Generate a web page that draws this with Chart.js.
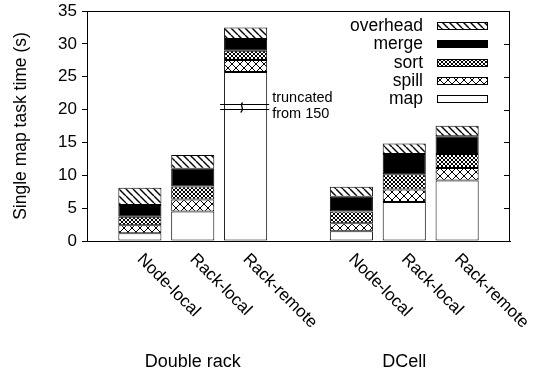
<!DOCTYPE html>
<html>
<head>
<meta charset="utf-8">
<script src="https://cdn.jsdelivr.net/npm/chart.js@4"></script>
<style>
  html, body { margin: 0; padding: 0; background: #fff; }
  #wrap { width: 550px; height: 374px; }
</style>
</head>
<body>
<div id="wrap"><canvas id="chart"></canvas></div>
<script>
// categories (empty slots pad the two groups)
const categories = ["", "Node-local", "Rack-local", "Rack-remote", "", "Node-local", "Rack-local", "Rack-remote", ""];
const groups = ["Double rack", "DCell"];
const groupSlots = [2, 6];

// stacked phases, seconds
const mapTime      = [null, 1.17, 4.5, 25.7, null, 1.5, 5.95, 9.2, null];
const spillTime    = [null, 1.22, 1.8, 1.85, null, 1.2, 1.9, 1.9, null];
const sortTime     = [null, 1.31, 2.0, 1.4, null, 1.8, 2.3, 2.15, null];
const mergeTime    = [null, 1.78, 2.7, 1.8, null, 2.25, 3.1, 2.7, null];
const overheadTime = [null, 2.63, 2.1, 1.75, null, 1.5, 1.6, 1.6, null];

const yTicks = [0, 5, 10, 15, 20, 25, 30, 35];

// Rack-remote map bar is cut off
const truncSlot = 3;
const truncFrom = 150;
const truncBreak = [20.05, 20.85];

const FONT = "'Liberation Sans', Arial, Helvetica, sans-serif";
Chart.defaults.font.family = FONT;
Chart.defaults.color = "#000";

// hatch patterns
function makePattern(size, lw, draw) {
  const c = document.createElement("canvas");
  c.width = size;
  c.height = size;
  const g = c.getContext("2d");
  g.fillStyle = "#fff";
  g.fillRect(0, 0, size, size);
  g.strokeStyle = "#000";
  g.lineWidth = lw;
  g.beginPath();
  draw(g, size);
  g.stroke();
  return g.createPattern(c, "repeat");
}
function back(g, s) {
  for (const k of [-s, 0, s]) { g.moveTo(k, 0); g.lineTo(k + s, s); }
}
function cross(g, s) {
  for (const k of [-s, 0, s]) {
    g.moveTo(k, 0); g.lineTo(k + s, s);
    g.moveTo(k, s); g.lineTo(k + s, 0);
  }
}
const spillFill = makePattern(8, 1, cross);
const sortFill = makePattern(4, 1, cross);
const overheadFill = makePattern(7, 1.4, back);

function ds(label, data, fill) {
  return {
    label: label,
    data: data,
    backgroundColor: fill,
    borderColor: "#000",
    borderWidth: 1,
    borderSkipped: false,
    barPercentage: 0.815,
    categoryPercentage: 1,
  };
}

// legend inside plot + frame + rotated labels + truncation mark
const decor = {
  id: "decor",
  afterDraw(chart) {
    const { ctx, chartArea: a } = chart;
    const xs = chart.scales.x;
    const ys = chart.scales.y;
    ctx.save();
    ctx.strokeStyle = "#000";
    ctx.lineWidth = 1;

    // frame
    ctx.strokeRect(Math.round(a.left) + 0.5, Math.round(a.top) + 0.5,
      Math.round(a.right - a.left) - 1, Math.round(a.bottom - a.top));
    // inward mirror ticks on the right
    ctx.beginPath();
    yTicks.forEach((v) => {
      const y = Math.round(ys.getPixelForValue(v)) + 0.5;
      ctx.moveTo(a.right - 6, y);
      ctx.lineTo(a.right, y);
    });
    ctx.stroke();

    // legend
    const items = chart.data.datasets.slice().reverse();
    ctx.font = "17.5px " + FONT;
    ctx.textAlign = "right";
    ctx.textBaseline = "middle";
    items.forEach((d, i) => {
      const y = Math.round(a.top + 15 + i * 18.25);
      ctx.fillStyle = "#000";
      ctx.fillText(d.label, a.right - 87, y);
      ctx.fillStyle = d.backgroundColor;
      ctx.fillRect(a.right - 72, y - 3, 50, 7);
      ctx.strokeRect(a.right - 72.5, y - 3.5, 50, 7);
    });

    // rotated category labels
    ctx.fillStyle = "#000";
    ctx.font = "17px " + FONT;
    ctx.textAlign = "left";
    ctx.textBaseline = "alphabetic";
    categories.forEach((c, i) => {
      if (!c) return;
      const x = xs.getPixelForValue(i);
      ctx.save();
      ctx.translate(x - 3.5, a.bottom + 19);
      ctx.rotate(Math.PI / 4);
      ctx.fillText(c, 0, 0);
      ctx.restore();
    });

    // group labels
    ctx.font = "18px " + FONT;
    ctx.textAlign = "center";
    groups.forEach((g, i) => {
      ctx.fillText(g, xs.getPixelForValue(groupSlots[i]), a.bottom + 126);
    });

    // truncation break
    const meta = chart.getDatasetMeta(0).data[truncSlot];
    const bl = meta.x - meta.width / 2;
    const br = meta.x + meta.width / 2;
    const y1 = Math.round(ys.getPixelForValue(truncBreak[1])) + 0.5;
    const y2 = Math.round(ys.getPixelForValue(truncBreak[0])) + 0.5;
    ctx.beginPath();
    ctx.moveTo(bl - 4, y1); ctx.lineTo(br + 2, y1);
    ctx.moveTo(bl - 4, y2); ctx.lineTo(br + 2, y2);
    ctx.stroke();
    const sx = meta.x - 4;
    ctx.lineWidth = 1.3;
    ctx.beginPath();
    ctx.moveTo(sx + 1, y1 - 2);
    ctx.bezierCurveTo(sx - 3, y1 + 1, sx + 4, y2 - 2, sx - 1, y2 + 3);
    ctx.stroke();
    ctx.font = "14.5px " + FONT;
    ctx.textAlign = "left";
    ctx.textBaseline = "middle";
    ctx.fillText("truncated", br + 5, y1 - 7);
    ctx.fillText("from " + truncFrom, br + 5, y2 + 4);
    ctx.restore();
  },
};

new Chart(document.getElementById("chart"), {
  type: "bar",
  data: {
    labels: categories,
    datasets: [
      ds("map", mapTime, "#fff"),
      ds("spill", spillTime, spillFill),
      ds("sort", sortTime, sortFill),
      ds("merge", mergeTime, "#000"),
      ds("overhead", overheadTime, overheadFill),
    ],
  },
  options: {
    responsive: true,
    maintainAspectRatio: false,
    animation: false,
    layout: { padding: { top: 11, right: 40, left: 0, bottom: 0 } },
    plugins: {
      legend: { display: false },
      tooltip: { enabled: false },
    },
    scales: {
      x: {
        stacked: true,
        offset: false,
        grid: { display: false },
        border: { display: true, color: "#000" },
        ticks: { display: false },
        afterFit: (s) => { s.height = 133; s.paddingLeft = 0; s.paddingRight = 0; },
      },
      y: {
        stacked: true,
        min: 0,
        max: 35,
        afterBuildTicks: (s) => { s.ticks = yTicks.map((v) => ({ value: v })); },
        grid: { drawOnChartArea: false, tickLength: 5, color: "#000" },
        border: { display: true, color: "#000" },
        ticks: { padding: 5, font: { size: 17 } },
        title: {
          display: true,
          text: "Single map task time (s)",
          font: { size: 17.5 },
          padding: { top: 10.5, bottom: 0 },
        },
        afterFit: (s) => { s.width = 87; s.paddingTop = 0; s.paddingBottom = 0; },
      },
    },
  },
  plugins: [decor],
});
</script>
</body>
</html>
